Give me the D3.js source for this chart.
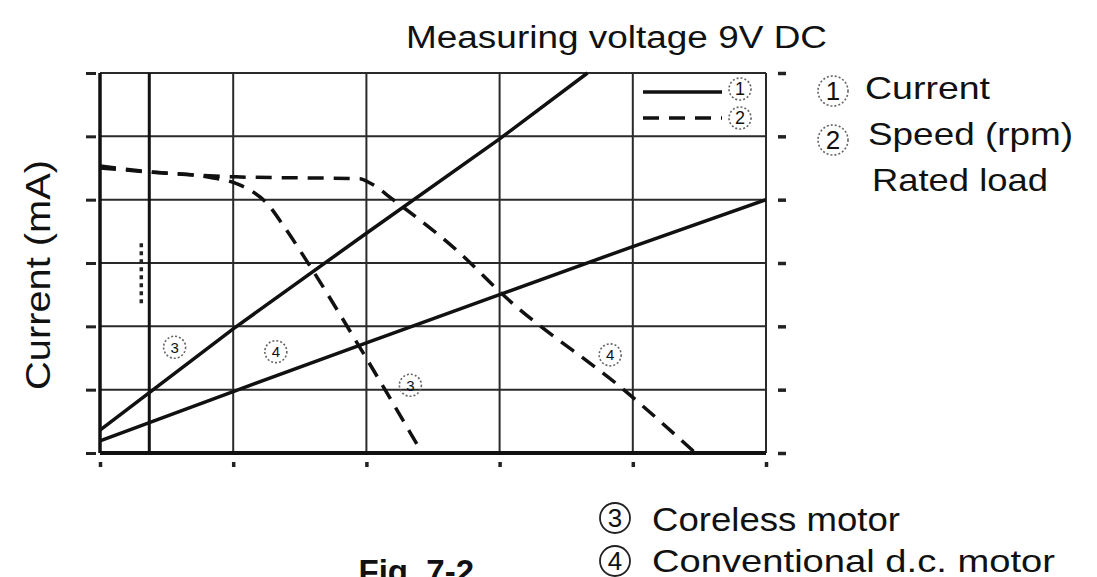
<!DOCTYPE html>
<html>
<head>
<meta charset="utf-8">
<script src="https://cdn.jsdelivr.net/npm/d3@7"></script>
<style>
  body { margin: 0; background: #fff; }
  svg { display: block; }
  text { font-family: "Liberation Sans", Arial, sans-serif; fill: #111; }
  .grid line { stroke: #2a2a2a; stroke-width: 2; }
  .curve { fill: none; stroke: #111; stroke-width: 3.5; }
  .dashed { stroke-dasharray: 16,10; }
</style>
</head>
<body>
<div id="chart"></div>
<script>
// grid units: x 0..5, y 0..6 (tick labels on the original are unreadable)
const xTicks = [0, 1, 2, 3, 4, 5];
const yTicks = [0, 1, 2, 3, 4, 5, 6];
const ratedLoadX = 0.37;

// current (solid) lines
const currentCoreless = [[0, 0.36], [1, 1.96], [2, 3.47], [3, 4.96], [3.66, 6]];
const currentConventional = [[0, 0.19], [1, 0.97], [2, 1.74], [3, 2.5], [4, 3.26], [5, 4.0]];

// speed (dashed) lines
const speedCoreless = [[0, 4.53], [0.375, 4.44], [0.8, 4.36], [1.03, 4.25], [1.15, 4.12],
  [1.25, 3.95], [1.39, 3.55], [1.58, 2.94], [1.93, 1.74], [2.41, 0.03]];
const speedConventional = [[0, 4.5], [1.02, 4.36], [1.95, 4.33], [2.03, 4.26], [2.2, 4.0],
  [2.7, 3.16], [3.03, 2.49], [3.96, 0.95], [4.47, 0]];

// circled curve tags inside the plot: [x, y, label]
const curveTags = [[0.56, 1.67, "3"], [1.32, 1.6, "4"], [2.33, 1.07, "3"], [3.83, 1.55, "4"]];

const W = 1097, H = 577;
const svg = d3.select("#chart").append("svg")
  .attr("width", W).attr("height", H);

const x = d3.scaleLinear().domain([0, 5]).range([100, 766]);
const y = d3.scaleLinear().domain([0, 6]).range([453, 73]);

// grid
const grid = svg.append("g").attr("class", "grid");
grid.selectAll(".gy").data(yTicks).enter().append("line")
  .attr("x1", x(0)).attr("x2", x(5))
  .attr("y1", d => y(d)).attr("y2", d => y(d));
grid.selectAll(".gx").data(xTicks).enter().append("line")
  .attr("x1", d => x(d)).attr("x2", d => x(d))
  .attr("y1", y(0)).attr("y2", y(6));

// frame (heavier left/bottom)
svg.append("line").attr("x1", x(0)).attr("x2", x(0)).attr("y1", y(0)).attr("y2", y(6))
  .attr("stroke", "#111").attr("stroke-width", 3.5);
svg.append("line").attr("x1", x(0)).attr("x2", x(5)).attr("y1", y(0)).attr("y2", y(0))
  .attr("stroke", "#111").attr("stroke-width", 4);
svg.append("line").attr("x1", x(ratedLoadX)).attr("x2", x(ratedLoadX)).attr("y1", y(0)).attr("y2", y(6))
  .attr("stroke", "#111").attr("stroke-width", 3);
svg.append("line").attr("x1", x(0.31)).attr("x2", x(0.31)).attr("y1", y(3.31)).attr("y2", y(2.3))
  .attr("stroke", "#222").attr("stroke-width", 3.5).attr("stroke-dasharray", "4,4");

// axes: tick marks only
svg.append("g").attr("transform", `translate(${x(0) - 4},0)`)
  .call(d3.axisLeft(y).tickValues(yTicks).tickSize(10).tickFormat(""))
  .call(g => g.select(".domain").remove())
  .call(g => g.selectAll("line").attr("stroke", "#222").attr("stroke-width", 3));
svg.append("g").attr("transform", `translate(${x(5) + 12},0)`)
  .call(d3.axisRight(y).tickValues(yTicks).tickSize(8).tickFormat(""))
  .call(g => g.select(".domain").remove())
  .call(g => g.selectAll("line").attr("stroke", "#222").attr("stroke-width", 3.5));
svg.append("g").attr("transform", `translate(0,${y(0) + 9})`)
  .call(d3.axisBottom(x).tickValues(xTicks).tickSize(5).tickFormat(""))
  .call(g => g.select(".domain").remove())
  .call(g => g.selectAll("line").attr("stroke", "#222").attr("stroke-width", 3.5));

// curves
const line = d3.line().x(d => x(d[0])).y(d => y(d[1]));
const smooth = d3.line().x(d => x(d[0])).y(d => y(d[1])).curve(d3.curveMonotoneX);
svg.append("path").datum(currentCoreless).attr("class", "curve").attr("d", line);
svg.append("path").datum(currentConventional).attr("class", "curve").attr("d", line);
svg.append("path").datum(speedCoreless).attr("class", "curve dashed").attr("d", smooth);
svg.append("path").datum(speedConventional).attr("class", "curve dashed").attr("d", smooth);

function circled(g, cx, cy, r, label, size, dashed) {
  g.append("circle").attr("cx", cx).attr("cy", cy).attr("r", r)
    .attr("fill", "none").attr("stroke", dashed ? "#666" : "#222")
    .attr("stroke-width", dashed ? 1.6 : 1.8)
    .attr("stroke-dasharray", dashed ? "2,2" : null);
  g.append("text").attr("x", cx).attr("y", cy).attr("dy", "0.36em")
    .attr("text-anchor", "middle").attr("font-size", size).text(label);
}

// curve tags
const tags = svg.append("g");
curveTags.forEach(t => circled(tags, x(t[0]), y(t[1]), 11, t[2], 15, true));

// inner legend
const lg = svg.append("g");
lg.append("line").attr("x1", 643).attr("x2", 722).attr("y1", 92).attr("y2", 92)
  .attr("class", "curve");
lg.append("line").attr("x1", 643).attr("x2", 722).attr("y1", 118).attr("y2", 118)
  .attr("class", "curve dashed");
circled(lg, 740, 89, 11, "1", 18, true);
circled(lg, 740, 118, 11, "2", 18, true);

function label(g, tx, ty, size, len, str) {
  return g.append("text").attr("x", tx).attr("y", ty).attr("font-size", size)
    .attr("textLength", len).attr("lengthAdjust", "spacingAndGlyphs").text(str);
}

// title
label(svg, 406, 48, 31, 421, "Measuring voltage 9V DC");

// y axis label
svg.append("text").attr("transform", "translate(50,275) rotate(-90)")
  .attr("text-anchor", "middle").attr("font-size", 35)
  .attr("textLength", 230).attr("lengthAdjust", "spacingAndGlyphs").text("Current (mA)");

// right legend
const rl = svg.append("g");
circled(rl, 833, 91, 15, "1", 26, true);
label(rl, 865, 99, 32, 125, "Current");
circled(rl, 833, 140, 15, "2", 26, true);
label(rl, 868, 145, 32, 205, "Speed (rpm)");
label(rl, 872, 191, 32, 176, "Rated load");

// bottom notes
const bn = svg.append("g");
circled(bn, 615, 518, 15, "3", 26, false);
label(bn, 652, 531, 33, 248, "Coreless motor");
circled(bn, 615, 561, 15, "4", 26, false);
label(bn, 652, 572, 32, 403, "Conventional d.c. motor");
bn.append("text").attr("x", 474).attr("y", 583).attr("font-size", 33)
  .attr("text-anchor", "end").attr("font-weight", "bold").text("Fig. 7-2");
</script>
</body>
</html>
